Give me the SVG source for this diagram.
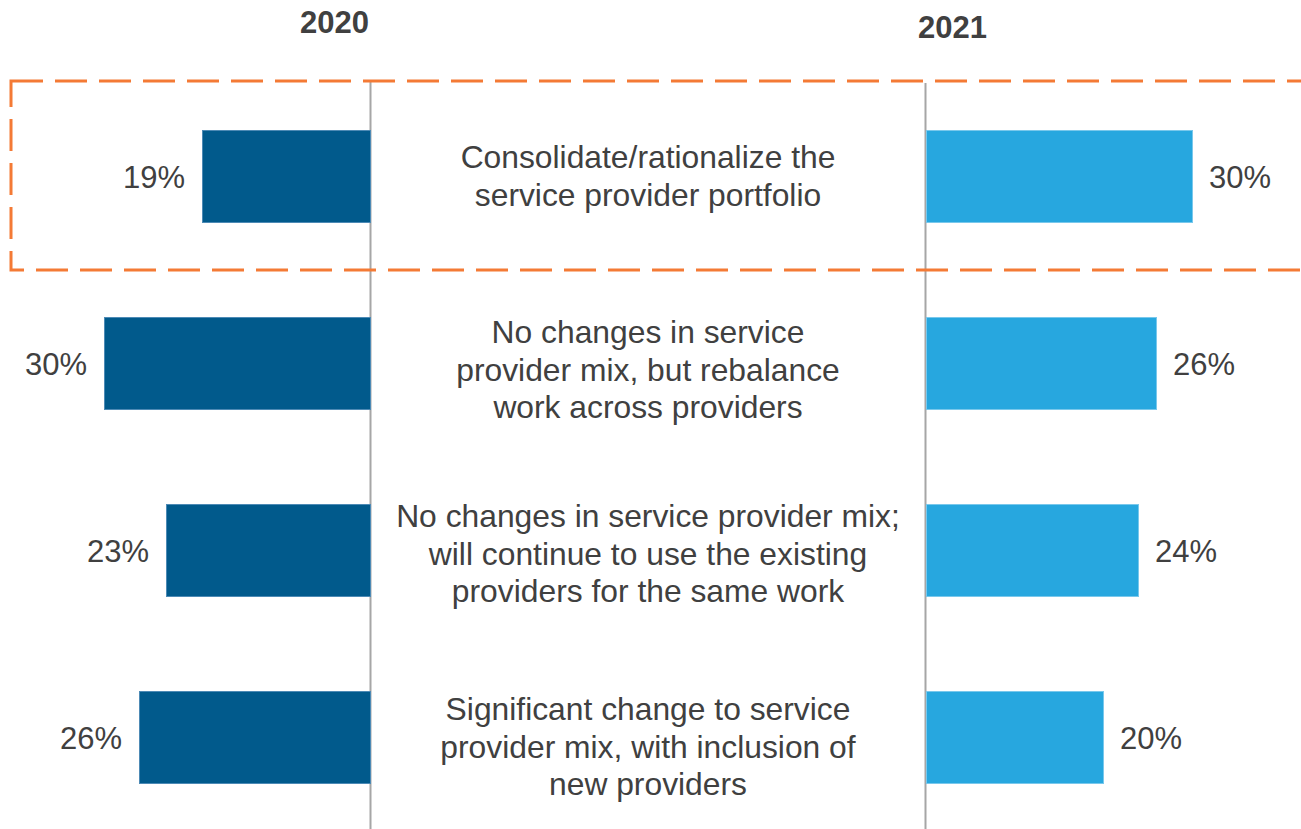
<svg xmlns="http://www.w3.org/2000/svg" width="1301" height="829" viewBox="0 0 1301 829">
<style>
text{font-family:"Liberation Sans",Arial,sans-serif;fill:#404040;font-size:31px}
.hdr{font-weight:bold}
.pl{text-anchor:end}
.ctr{text-anchor:middle;font-size:31.8px}
.b20{fill:#015A8C;stroke:#4d8ab5;stroke-width:1}
.b21{fill:#27A7DF;stroke:#79c8ec;stroke-width:1}
.axis{stroke:#A6A6A6;stroke-width:2;fill:none}
.hl{fill:none;stroke:#F47A35;stroke-width:3;stroke-dasharray:32 12}
</style>
<rect width="1301" height="829" fill="#ffffff"/>
<g id="headers">
<text class="hdr" x="300" y="33">2020</text>
<text class="hdr" x="918" y="38">2021</text>
</g>
<g id="axes">
<line class="axis" x1="370.5" y1="81" x2="370.5" y2="829"/>
<line class="axis" x1="925.5" y1="83" x2="925.5" y2="829"/>
</g>
<g id="row1">
<rect class="b20" x="202.5" y="130.5" width="168" height="92"/>
<rect class="b21" x="926.5" y="130.5" width="266" height="92"/>
<text class="pl" x="185" y="188">19%</text>
<text x="1209" y="188">30%</text>
<text class="ctr" x="648" y="168">Consolidate/rationalize the</text>
<text class="ctr" x="648" y="205.5">service provider portfolio</text>
</g>
<g id="row2">
<rect class="b20" x="104.5" y="317.5" width="266" height="92"/>
<rect class="b21" x="926.5" y="317.5" width="230" height="92"/>
<text class="pl" x="87" y="375">30%</text>
<text x="1173" y="375">26%</text>
<text class="ctr" x="648" y="343">No changes in service</text>
<text class="ctr" x="648" y="380.5">provider mix, but rebalance</text>
<text class="ctr" x="648" y="418">work across providers</text>
</g>
<g id="row3">
<rect class="b20" x="166.5" y="504.5" width="204" height="92"/>
<rect class="b21" x="926.5" y="504.5" width="212" height="92"/>
<text class="pl" x="149" y="562">23%</text>
<text x="1155" y="562">24%</text>
<text class="ctr" x="648" y="527">No changes in service provider mix;</text>
<text class="ctr" x="648" y="564.5">will continue to use the existing</text>
<text class="ctr" x="648" y="602">providers for the same work</text>
</g>
<g id="row4">
<rect class="b20" x="139.5" y="691.5" width="231" height="92"/>
<rect class="b21" x="926.5" y="691.5" width="177" height="92"/>
<text class="pl" x="122" y="749">26%</text>
<text x="1120" y="749">20%</text>
<text class="ctr" x="648" y="720">Significant change to service</text>
<text class="ctr" x="648" y="757.5">provider mix, with inclusion of</text>
<text class="ctr" x="648" y="795">new providers</text>
</g>
<g id="highlight">
<rect class="hl" x="11" y="81" width="1320" height="189"/>
</g>
</svg>
